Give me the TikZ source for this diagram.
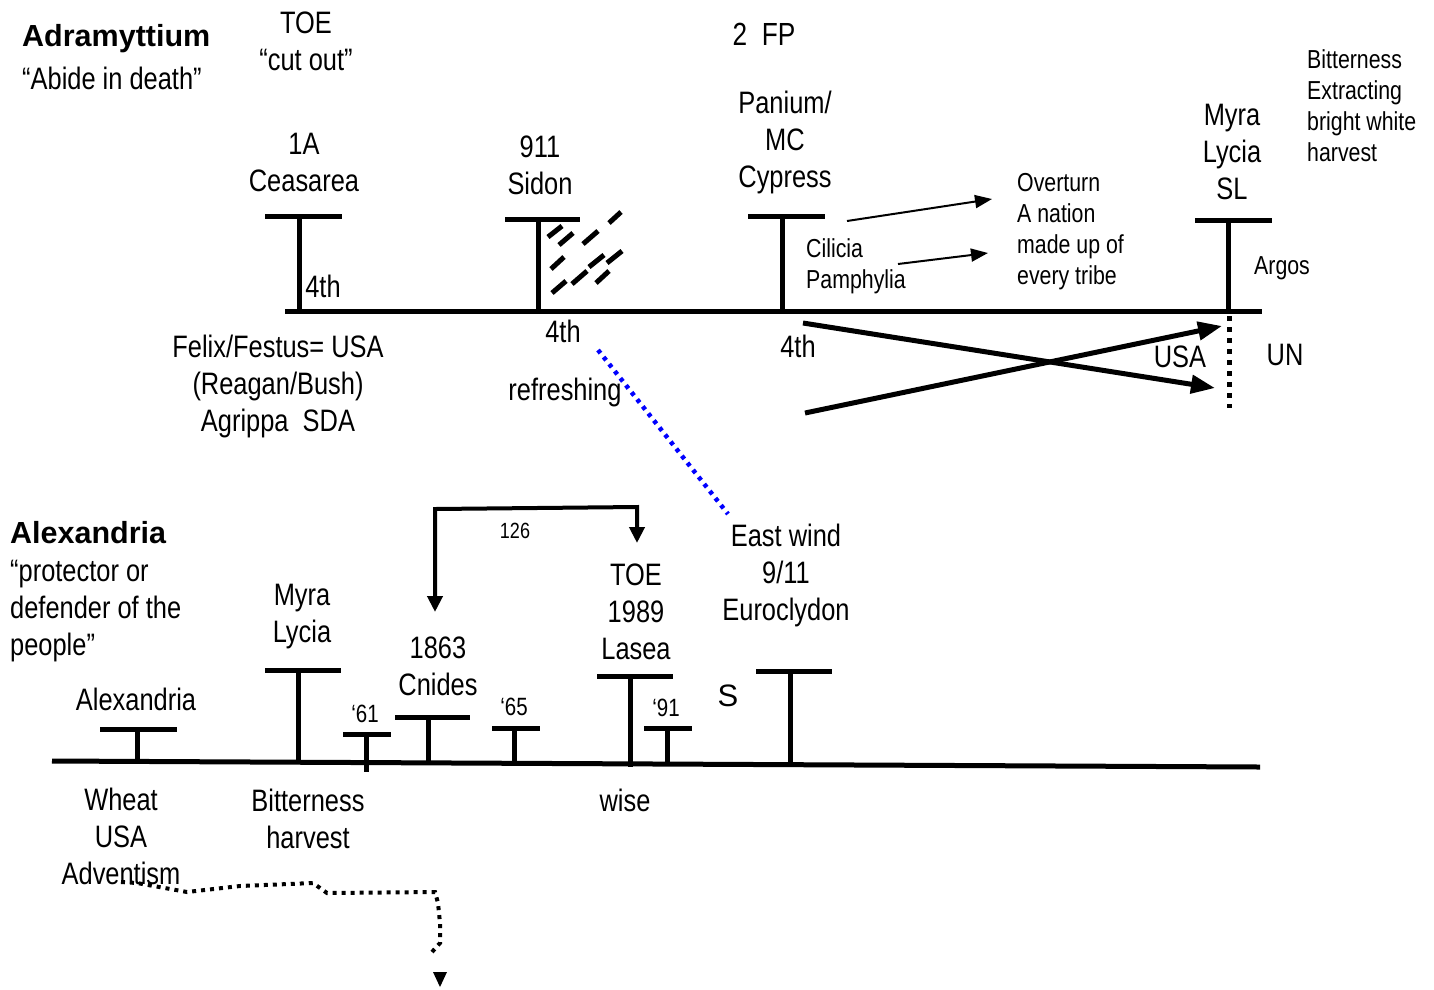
\documentclass[tikz,border=0pt]{standalone}
\usepackage{fontspec}
\setmainfont{Liberation Sans}[FakeStretch=0.82]
\newfontfamily\widefont{Liberation Sans}
\usetikzlibrary{arrows.meta}
\tikzset{
  lbl/.style={inner sep=0pt, align=center, font=\fontsize{31}{37}\selectfont},
  sm/.style={inner sep=0pt, align=left, anchor=west, font=\fontsize{26}{31}\selectfont},
  tiny/.style={inner sep=0pt, font=\fontsize{22}{26}\selectfont},
  yearlbl/.style={inner sep=0pt, font=\fontsize{25}{30}\selectfont},
  head/.style={inner sep=0pt, anchor=west, font=\widefont\bfseries\fontsize{30.5}{36}\selectfont},
  rule/.style={line width=5pt},
  dashmark/.style={line width=5pt},
  thinarrow/.style={line width=2pt, -{Triangle[length=17pt,width=13pt]}},
  thickarrow/.style={line width=5pt, -{Triangle[length=24pt,width=18pt]}},
  blackdots/.style={line width=5pt, dash pattern=on 5pt off 6pt},
  bluedots/.style={line width=4.5pt, blue, dash pattern=on 4pt off 5pt},
  curvedots/.style={line width=4pt, dash pattern=on 4pt off 5pt},
}
\begin{document}
\begin{tikzpicture}[x=1pt,y=-1pt]
\useasboundingbox (0,0) rectangle (1434,989);

% ---------- top section ----------
\node[head] (adram) at (22,39) {Adramyttium};
\node[lbl, anchor=west] (abide) at (22,78) {“Abide in death”};
\node[lbl] (toecut) at (306,41.5) {TOE\\“cut out”};
\node[lbl, font=\fontsize{32}{38}\selectfont] (fp) at (764,34) {2\ \ FP};

% main top line
\draw[rule] (285,311) -- (1262,311);
% 1A Ceasarea
\draw[rule] (265,216) -- (342,216);
\draw[rule] (299,216) -- (299,311);
\node[lbl] (ceas) at (304,162) {1A\\Ceasarea};
\node[lbl] (fourtha) at (323,286) {4th};
% 911 Sidon
\draw[rule] (505,219) -- (580,219);
\draw[rule] (538,219) -- (538,311);
\node[lbl] (sidon) at (540,165) {911\\Sidon};
\node[lbl] (fourthb) at (563,331) {4th};
% dashes
\draw[dashmark] (609,223) -- (621,212);
\draw[dashmark] (548,237) -- (562,226);
\draw[dashmark] (559,245) -- (573,233);
\draw[dashmark] (583,244) -- (598,231);
\draw[dashmark] (551,269) -- (564,257);
\draw[dashmark] (589,267) -- (604,255);
\draw[dashmark] (607,263) -- (622,251);
\draw[dashmark] (552,293) -- (566,281);
\draw[dashmark] (572,284) -- (587,271);
\draw[dashmark] (596,283) -- (609,271);
% Panium
\draw[rule] (748,216) -- (825,216);
\draw[rule] (782,216) -- (782,311);
\node[lbl] (panium) at (785,142) {Panium/\\MC\\Cypress};
\node[lbl] (fourthc) at (798,346) {4th};
% Myra Lycia SL
\draw[rule] (1195,220) -- (1272,220);
\draw[rule] (1228,220) -- (1228,311);
\node[lbl] (myrasl) at (1232,152) {Myra\\Lycia\\SL};
\node[sm] (bitter) at (1307,106) {Bitterness\\Extracting\\bright white\\harvest};
\node[sm] (overturn) at (1017,232) {Overturn\\A nation\\made up of\\every tribe};
\node[sm] (cilicia) at (806,266) {Cilicia\\Pamphylia};
\node[sm] (argos) at (1254,268) {Argos};

\coordinate (ta1) at (847,221);
\coordinate (ta1e) at (992,199);
\coordinate (ta2) at (898,264);
\coordinate (ta2e) at (988,253);
\draw[thinarrow] (ta1) -- (ta1e);
\draw[thinarrow] (ta2) -- (ta2e);

% dotted vertical UN
\coordinate (dv1) at (1229,316);
\coordinate (dv2) at (1229,408);
\draw[blackdots] (dv1) -- (dv2);
\node[lbl] (usa) at (1180,357) {USA};
\node[lbl] (un) at (1285,355) {UN};

% cross arrows
\coordinate (xa1) at (803,323);
\coordinate (xa1e) at (1215,388);
\coordinate (xa2) at (805,413);
\coordinate (xa2e) at (1222,326);
\draw[thickarrow] (xa1) -- (xa1e);
\draw[thickarrow] (xa2) -- (xa2e);

\node[lbl] (felix) at (278,386) {Felix/Festus= USA\\(Reagan/Bush)\\Agrippa\ \ SDA};
\node[lbl] (refresh) at (565,392) {refreshing};

% blue dotted
\coordinate (bd1) at (598,350);
\coordinate (bd2) at (728,514);
\draw[bluedots] (bd1) -- (bd2);

% ---------- bottom section ----------
\node[head] (alexh) at (10,533) {Alexandria};
\node[lbl, anchor=west, align=left] (protector) at (10,611) {“protector or\\defender of the\\people”};

\draw[rule] (52,761) -- (1260,767);
% Alexandria
\draw[rule] (100,729) -- (177,729);
\draw[rule] (137,729) -- (137,762);
\node[lbl] (alex) at (136,699) {Alexandria};
% Myra Lycia
\draw[rule] (265,670) -- (341,670);
\draw[rule] (298,670) -- (298,763);
\node[lbl] (myra) at (302,617) {Myra\\Lycia};
% '61
\draw[rule] (343,734) -- (391,734);
\draw[rule] (366,734) -- (366,772);
\node[yearlbl] (y61) at (365,714) {‘61};
% 1863 Cnides
\draw[rule] (395,717) -- (470,717);
\draw[rule] (428,717) -- (428,764);
\node[lbl] (cnides) at (438,666) {1863\\Cnides};
% '65
\draw[rule] (492,728) -- (540,728);
\draw[rule] (514,728) -- (514,764);
\node[yearlbl] (y65) at (514,707) {‘65};
% TOE 1989 Lasea
\draw[rule] (597,676) -- (673,676);
\draw[rule] (630,676) -- (630,767);
\node[lbl] (lasea) at (636,612) {TOE\\1989\\Lasea};
% '91
\draw[rule] (644,728) -- (692,728);
\draw[rule] (667,728) -- (667,765);
\node[yearlbl] (y91) at (666,708) {‘91};
% S
\node[inner sep=0pt, font=\widefont\fontsize{31}{36}\selectfont] (s) at (728,696) {S};
% East wind
\draw[rule] (756,671) -- (832,671);
\draw[rule] (790,671) -- (790,766);
\node[lbl] (east) at (786,575) {East wind\\9/11\\Euroclydon};

\node[lbl] (wise) at (625,800) {wise};
\node[lbl] (wheat) at (121,836) {Wheat\\USA\\Adventism};
\node[lbl] (bitterh) at (308,819) {Bitterness\\harvest};

% 126 connector
\coordinate (c1) at (435,612);
\coordinate (c2) at (637,543);
\draw[line width=4pt, {Triangle[length=16pt,width=15pt]}-{Triangle[length=16pt,width=15pt]}] (c1) -- (435,509) -- (637,507) -- (c2);
\node[tiny] (n126) at (515,531) {126};

% dotted curve
\coordinate (dc1) at (121,882);
\coordinate (dc2) at (432,952);
\draw[curvedots] (dc1) -- (137,883) -- (187,892) -- (240,886) -- (313,883) -- (327,893) -- (435,892) -- (438,903) -- (440,923) -- (440,943) -- (dc2);
\coordinate (tri) at (440,980);
\fill (433,972) -- (447,972) -- (440,987) -- cycle;
\end{tikzpicture}
\end{document}
